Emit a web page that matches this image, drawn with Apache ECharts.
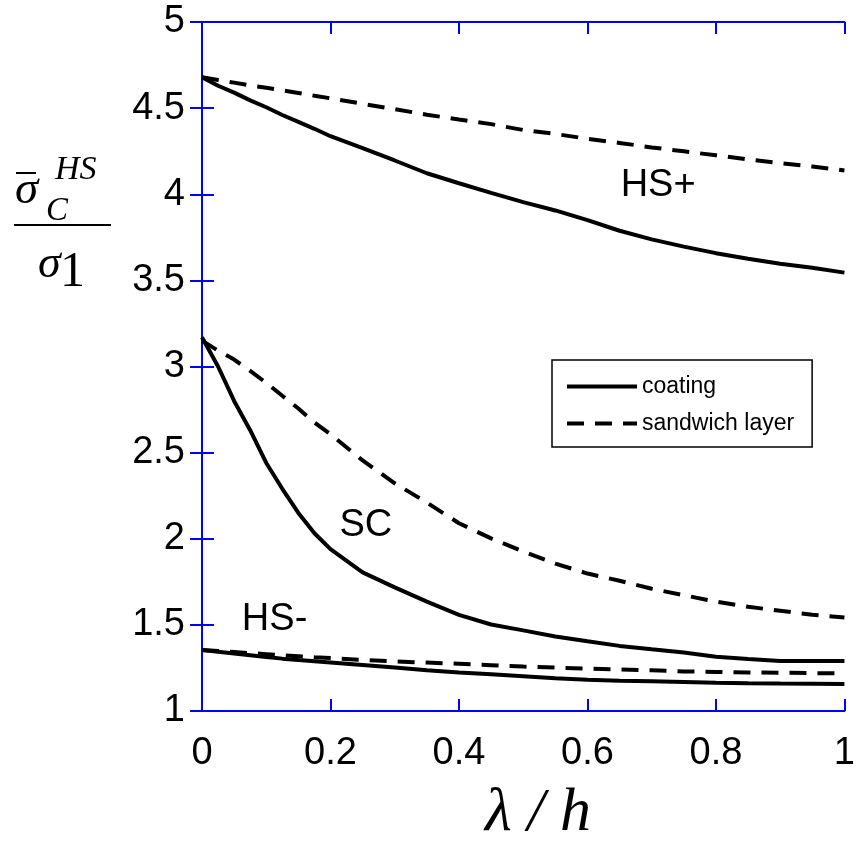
<!DOCTYPE html>
<html>
<head>
<meta charset="utf-8">
<script src="https://cdn.jsdelivr.net/npm/echarts@6/dist/echarts.min.js"></script>
<style>
html,body{margin:0;padding:0;background:#fff;}
#c{width:858px;height:845px;}
</style>
</head>
<body>
<div id="c"></div>
<script>
// lambda / h grid
var lam = [0, 0.025, 0.05, 0.075, 0.1, 0.125, 0.15, 0.175, 0.2, 0.25, 0.3, 0.35, 0.4, 0.45, 0.5, 0.55, 0.6, 0.65, 0.7, 0.75, 0.8, 0.85, 0.9, 0.95, 1.0];
// HS+ bound
var hsPlusCoating   = [4.68, 4.63, 4.59, 4.545, 4.505, 4.46, 4.42, 4.38, 4.337, 4.268, 4.196, 4.122, 4.064, 4.008, 3.954, 3.906, 3.85, 3.788, 3.738, 3.696, 3.658, 3.626, 3.597, 3.573, 3.545];
var hsPlusSandwich  = [4.68, 4.663, 4.648, 4.632, 4.618, 4.604, 4.588, 4.572, 4.557, 4.525, 4.494, 4.462, 4.434, 4.407, 4.373, 4.35, 4.322, 4.298, 4.272, 4.249, 4.226, 4.202, 4.181, 4.161, 4.138];
// SC
var scCoating       = [3.17, 3.0, 2.8, 2.63, 2.44, 2.29, 2.15, 2.032, 1.94, 1.805, 1.718, 1.635, 1.558, 1.502, 1.468, 1.433, 1.405, 1.378, 1.358, 1.34, 1.315, 1.302, 1.29, 1.29, 1.29];
var scSandwich      = [3.15, 3.092, 3.04, 2.975, 2.905, 2.83, 2.756, 2.675, 2.606, 2.455, 2.322, 2.21, 2.09, 2.002, 1.926, 1.856, 1.798, 1.756, 1.71, 1.672, 1.635, 1.605, 1.582, 1.559, 1.543];
// HS- bound
var hsMinusCoating  = [1.354, 1.344, 1.334, 1.324, 1.314, 1.304, 1.296, 1.289, 1.282, 1.267, 1.252, 1.237, 1.223, 1.213, 1.202, 1.19, 1.181, 1.176, 1.172, 1.168, 1.164, 1.161, 1.159, 1.158, 1.157];
var hsMinusSandwich = [1.354, 1.348, 1.342, 1.336, 1.33, 1.323, 1.318, 1.312, 1.307, 1.296, 1.288, 1.281, 1.274, 1.266, 1.258, 1.252, 1.246, 1.241, 1.236, 1.23, 1.227, 1.224, 1.222, 1.22, 1.219];

var legendNames = ['coating', 'sandwich layer'];
// annotation labels [text, x, y]
var annoText = ['HS+', 'SC', 'HS-'];
var annoX = [0.71, 0.255, 0.113];
var annoY = [4.05, 2.074, 1.534];

var BLUE = '#0000ff';
var SANS = 'Liberation Sans, Arial, sans-serif';
var SERIF = 'Liberation Serif, Times New Roman, serif';
var chart = echarts.init(document.getElementById('c'), null, {renderer: 'canvas'});

function pairs(arr) { return lam.map(function (x, i) { return [x, arr[i]]; }); }

var solid = {color: '#000', width: 4, type: 'solid'};
var dashed = {color: '#000', width: 4, type: [17, 11]};

function mkSeries(name, arr, ls) {
  return {
    type: 'line', name: name, data: pairs(arr), xAxisIndex: 0, yAxisIndex: 0,
    symbol: 'none', showSymbol: false, lineStyle: ls, itemStyle: {color: '#000'},
    animation: false, silent: true
  };
}

var series = [
  mkSeries(legendNames[0], hsPlusCoating, solid),
  mkSeries(legendNames[1], hsPlusSandwich, dashed),
  mkSeries(legendNames[0], scCoating, solid),
  mkSeries(legendNames[1], scSandwich, dashed),
  mkSeries(legendNames[0], hsMinusCoating, solid),
  mkSeries(legendNames[1], hsMinusSandwich, dashed)
];
series[0].markPoint = {
  symbol: 'circle', symbolSize: 1, itemStyle: {color: 'rgba(0,0,0,0)'},
  silent: true, animation: false,
  label: {show: true, position: 'inside', formatter: function (p) { return p.name; },
          color: '#000', fontSize: 38, fontFamily: SANS},
  data: annoText.map(function (t, i) { return {name: t, coord: [annoX[i], annoY[i]]}; })
};

var axLine = {show: true, lineStyle: {color: BLUE, width: 2}};
var axTick = {show: true, inside: true, length: 12, lineStyle: {color: BLUE, width: 2}};

chart.setOption({
  backgroundColor: '#fff',
  animation: false,
  grid: {left: 202, right: 9, top: 22, bottom: 134, containLabel: false},
  xAxis: [
    {type: 'value', min: 0, max: 1, interval: 0.2, position: 'bottom',
     axisLine: axLine, axisTick: axTick, splitLine: {show: false},
     axisLabel: {color: '#000', fontSize: 38, fontFamily: SANS, margin: 24}},
    {type: 'value', min: 0, max: 1, interval: 0.2, position: 'top',
     axisLine: axLine, axisTick: axTick, splitLine: {show: false}, axisLabel: {show: false}}
  ],
  yAxis: [
    {type: 'value', min: 1, max: 5, interval: 0.5, position: 'left',
     axisLine: axLine, axisTick: axTick, splitLine: {show: false},
     axisLabel: {color: '#000', fontSize: 38, fontFamily: SANS, margin: 17}},
    {type: 'value', min: 1, max: 5, interval: 0.5, position: 'right',
     axisLine: axLine, axisTick: axTick, splitLine: {show: false}, axisLabel: {show: false}}
  ],
  legend: {
    data: legendNames, orient: 'vertical', left: 552, top: 360,
    backgroundColor: '#fff', borderColor: '#000', borderWidth: 1.5,
    padding: [15, 18, 12, 13], itemWidth: 70, itemHeight: 26, itemGap: 14,
    lineStyle: {width: 4},
    itemStyle: {color: 'rgba(0,0,0,0)', borderColor: 'rgba(0,0,0,0)', borderWidth: 0},
    textStyle: {color: '#000', fontSize: 23, fontFamily: SANS},
    selectedMode: false
  },
  series: series,
  graphic: [
    // y-axis label: fraction sigma-bar_C^HS / sigma_1
    {type: 'line', shape: {x1: 16, y1: 173, x2: 36, y2: 173}, style: {stroke: '#000', lineWidth: 2}},
    {type: 'text', left: 15, top: 167, style: {text: 'σ', fill: '#000', font: 'italic 47px ' + SERIF}},
    {type: 'text', left: 55, top: 153, style: {text: 'HS', fill: '#000', font: 'italic 34px ' + SERIF}},
    {type: 'text', left: 46, top: 195, style: {text: 'C', fill: '#000', font: 'italic 33px ' + SERIF}},
    {type: 'line', shape: {x1: 14, y1: 225, x2: 111, y2: 225}, style: {stroke: '#000', lineWidth: 2}},
    {type: 'text', left: 38, top: 242, style: {text: 'σ', fill: '#000', font: 'italic 46px ' + SERIF}},
    {type: 'text', left: 60, top: 248, style: {text: '1', fill: '#000', font: '50px ' + SERIF}},
    // x-axis label
    {type: 'text', left: 485, top: 783, style: {text: 'λ / h', fill: '#000', font: 'italic 62px ' + SERIF}}
  ]
});
</script>
</body>
</html>
